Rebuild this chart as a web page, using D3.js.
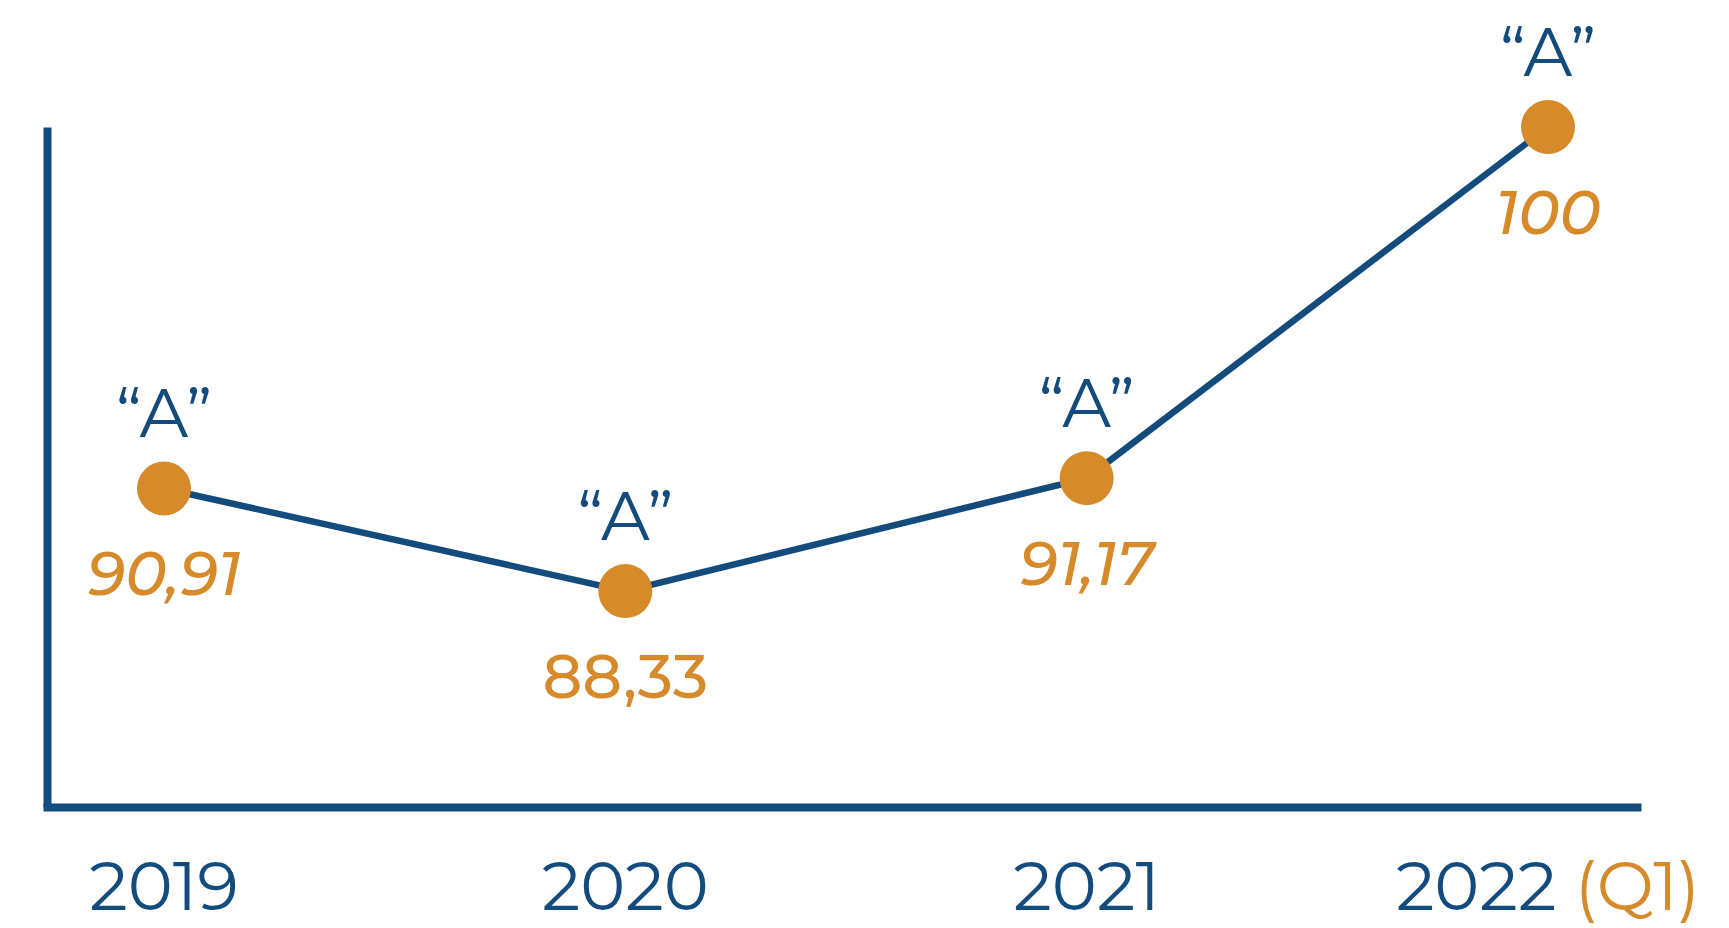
<!DOCTYPE html>
<html>
<head>
<meta charset="utf-8">
<script src="https://cdn.jsdelivr.net/npm/d3@7"></script>
<style>
  body { margin: 0; background: #fff; }
  svg { display: block; font-family: "Montserrat", "Open Sans", sans-serif; }
</style>
</head>
<body>
<div class="chart"></div>
<script>
// data
var years = ["2019", "2020", "2021", "2022"];
var yearSuffix = ["", "", "", " (Q1)"];
var values = [90.91, 88.33, 91.17, 100];
var grades = ["“A”", "“A”", "“A”", "“A”"];

var svgWidth = 1729;
var svgHeight = 928;

var navy = "#134b7c";
var orange = "#d68a2a";

var svg = d3.select(".chart")
  .append("svg")
  .attr("width", svgWidth)
  .attr("height", svgHeight);

var data = years.map((y, i) => ({ year: y, suffix: yearSuffix[i], value: values[i], grade: grades[i] }));

// scales
var xScale = d3.scalePoint()
  .domain(years)
  .range([164, 1548]);

var yScale = d3.scaleLinear()
  .domain([82.9, 100])
  .range([807, 127]);

var locale = d3.formatLocale({ decimal: ",", thousands: ".", grouping: [3], currency: ["", ""] });
var fmt = locale.format(".2~f");

// axes frame (no ticks)
var yAxis = svg.append("g")
  .attr("transform", "translate(47,0)")
  .call(d3.axisLeft(yScale).tickValues([]).tickSizeOuter(0));
yAxis.select(".domain").attr("stroke", navy).attr("stroke-width", 8);

var xAxis = svg.append("g")
  .attr("transform", "translate(0,807)")
  .call(d3.axisBottom(d3.scaleLinear().domain([0, 1]).range([43, 1641])).tickValues([]).tickSizeOuter(0));
xAxis.select(".domain").attr("stroke", navy).attr("stroke-width", 8);

// line
var line = d3.line()
  .x(d => xScale(d.year))
  .y(d => yScale(d.value));

svg.append("path")
  .datum(data)
  .attr("d", line)
  .attr("fill", "none")
  .attr("stroke", navy)
  .attr("stroke-width", 6.5);

// points
svg.selectAll("circle")
  .data(data)
  .enter()
  .append("circle")
  .attr("cx", d => xScale(d.year))
  .attr("cy", d => yScale(d.value))
  .attr("r", 27)
  .attr("fill", orange);

// grade labels above points
svg.selectAll(".grade")
  .data(data)
  .enter()
  .append("text")
  .attr("class", "grade")
  .attr("x", d => xScale(d.year))
  .attr("y", d => yScale(d.value) - 51)
  .attr("text-anchor", "middle")
  .attr("fill", navy)
  .attr("font-size", 68)
  .text(d => d.grade);

// value labels below points
svg.selectAll(".val")
  .data(data)
  .enter()
  .append("text")
  .attr("class", "val")
  .attr("x", d => xScale(d.year))
  .attr("y", d => yScale(d.value) + 107)
  .attr("text-anchor", "middle")
  .attr("fill", orange)
  .attr("font-size", 62)
  .attr("font-weight", 500)
  .attr("font-style", (d, i) => i === 1 ? "normal" : "italic")
  .text(d => fmt(d.value));

// year labels
var yl = svg.selectAll(".year")
  .data(data)
  .enter()
  .append("text")
  .attr("class", "year")
  .attr("x", d => xScale(d.year))
  .attr("y", 910)
  .attr("text-anchor", "middle")
  .attr("font-size", 68)
  .attr("fill", navy);

yl.append("tspan").text(d => d.year);
yl.append("tspan").attr("fill", orange).text(d => d.suffix);
</script>
</body>
</html>
